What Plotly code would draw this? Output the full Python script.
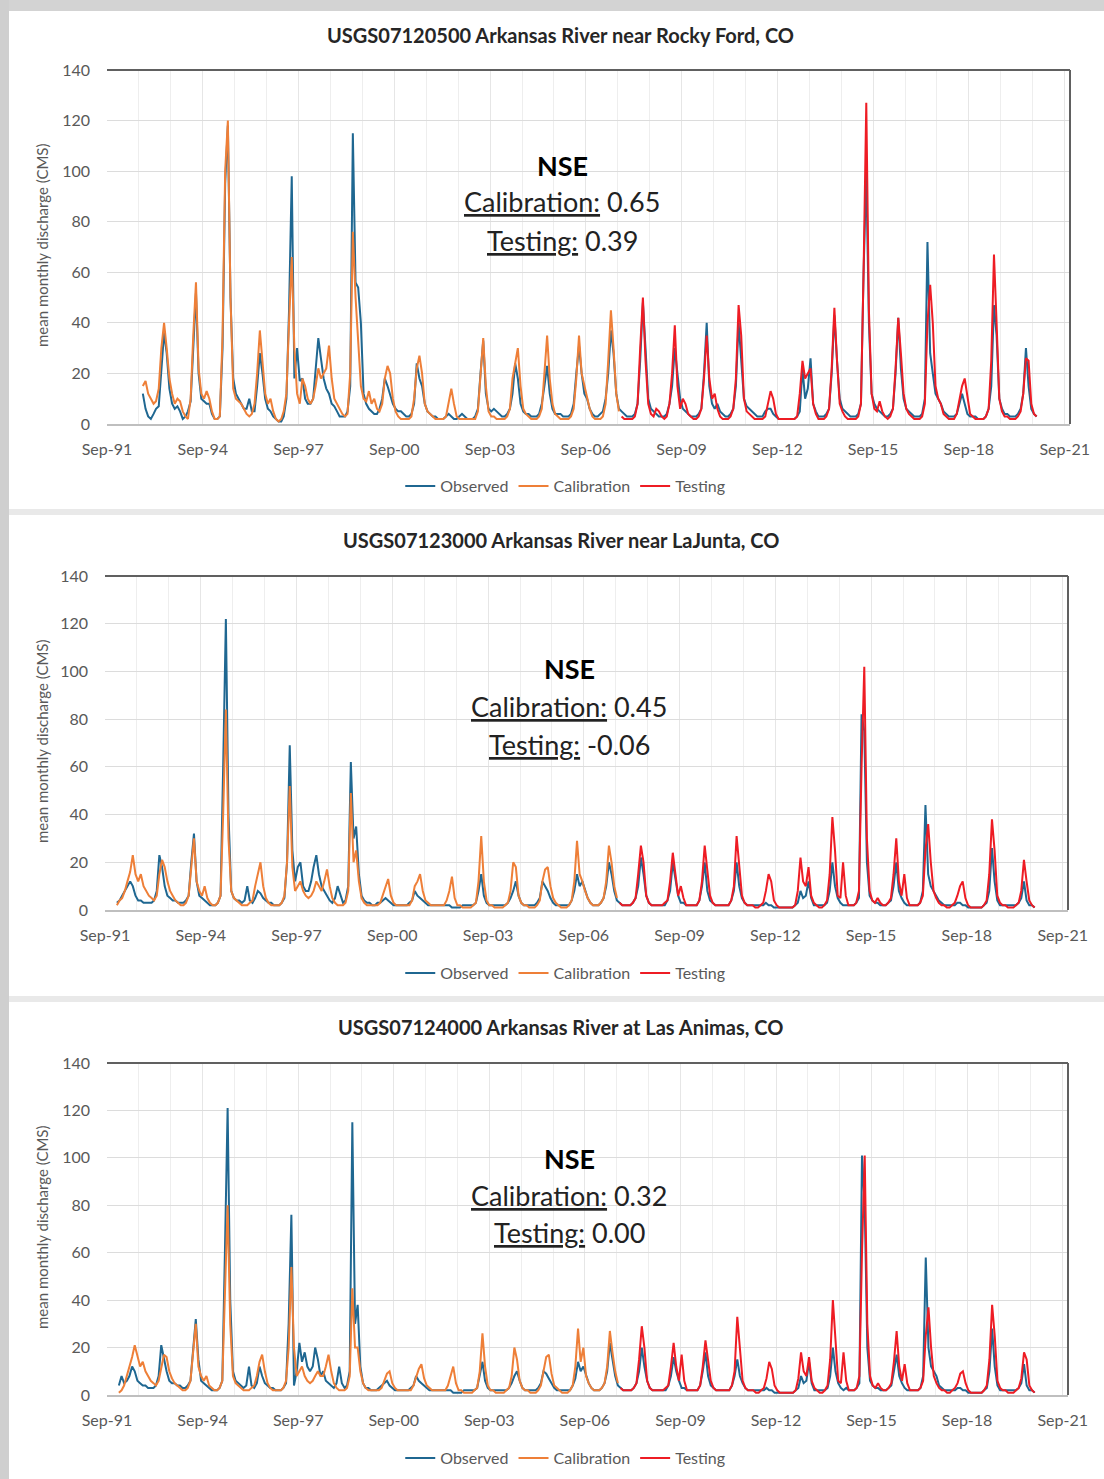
import plotly.graph_objects as go
import pandas as pd

# ---------------- data (monthly mean discharge, CMS) ----------------
titles = [
    "USGS07120500 Arkansas River near Rocky Ford, CO",
    "USGS07123000 Arkansas River near LaJunta, CO",
    "USGS07124000 Arkansas River at Las Animas, CO",
]
nse_calibration = ["0.65", "0.45", "0.32"]
nse_testing = ["0.39", "-0.06", "0.00"]
series_names = ["Observed", "Calibration", "Testing"]
tick_labels_start = "1991-09-01"
test_start = "2007-10-01"

start1 = "1992-10-01"
obs1 = [
    12, 6, 3,
    2, 4, 6, 7, 22, 36, 28, 14, 8, 6, 7, 5,
    2, 3, 5, 9, 30, 52, 20, 10, 9, 8, 8, 4,
    2, 2, 3, 30, 95, 118, 50, 18, 12, 10, 8, 6,
    6, 10, 5, 5, 15, 28, 20, 10, 6, 5, 3, 2,
    1, 1, 3, 10, 45, 98, 18, 30, 17, 18, 10, 8,
    8, 10, 20, 34, 26, 18, 14, 12, 8, 7, 5, 3,
    3, 3, 5, 15, 115, 56, 54, 40, 12, 8, 6, 5,
    4, 4, 6, 10, 18, 15, 12, 8, 6, 5, 5, 4,
    3, 3, 4, 8, 24, 18, 15, 8, 5, 4, 3, 3,
    2, 2, 2, 3, 4, 3, 2, 2, 3, 4, 3, 2,
    2, 2, 3, 6, 20, 33, 12, 6, 5, 6, 5, 4,
    3, 3, 4, 6, 12, 24, 18, 8, 5, 4, 4, 3,
    3, 3, 4, 8, 15, 23, 12, 6, 4, 4, 4, 3,
    3, 3, 4, 8, 20, 31, 20, 12, 10, 6, 4, 3,
    3, 4, 5, 10, 20, 37, 28, 12, 6, 5, 4, 3,
    3, 3, 4, 8, 25, 48, 30, 10, 6, 5, 4, 3,
    3, 3, 4, 8, 15, 30, 20, 10, 6, 5, 4, 3,
    3, 3, 4, 6, 20, 40, 15, 8, 6, 8, 5, 4,
    3, 3, 4, 6, 15, 40, 25, 10, 7, 6, 5, 4,
    3, 3, 3, 5, 6, 6, 4, 3, 2, 2, 2, 2,
    2, 2, 2, 3, 5, 22, 10, 14, 26, 8, 5, 3,
    3, 3, 4, 6, 20, 43, 25, 10, 6, 5, 4, 3,
    3, 3, 4, 8, 60, 100, 40, 12, 8, 6, 5, 4,
    3, 3, 4, 6, 20, 42, 22, 10, 6, 5, 4, 3,
    3, 3, 4, 10, 72, 28, 20, 12, 10, 8, 5, 4,
    3, 3, 3, 4, 8, 12, 8, 4, 3, 3, 3, 2,
    2, 2, 3, 6, 15, 47, 35, 10, 6, 4, 4, 3,
    3, 3, 4, 6, 12, 30, 15, 6, 4, 3,
]
sim1 = [
    15, 17, 12,
    10, 8, 9, 14, 30, 40, 30, 18, 12, 8, 10, 9,
    5, 3, 2, 10, 35, 56, 22, 12, 10, 13, 10, 5,
    2, 2, 3, 35, 100, 120, 50, 14, 10, 9, 8, 6,
    4, 3, 4, 8, 20, 37, 25, 12, 8, 10, 5, 2,
    1, 2, 5, 12, 40, 66, 30, 12, 8, 18, 15, 10,
    8, 10, 15, 22, 18, 20, 22, 31, 18, 10, 8, 6,
    4, 3, 4, 20, 76, 50, 30, 15, 10, 9, 13, 8,
    10, 6, 5, 8, 18, 23, 20, 10, 5, 3, 2, 2,
    2, 2, 3, 10, 22, 27, 20, 8, 5, 4, 3, 2,
    2, 2, 2, 3, 8, 14, 8, 3, 2, 2, 2, 2,
    2, 2, 2, 5, 20, 34, 15, 5, 3, 3, 2, 2,
    2, 2, 3, 6, 18, 25, 30, 15, 6, 4, 3, 2,
    2, 2, 3, 6, 20, 35, 18, 8, 4, 3, 2, 2,
    2, 2, 3, 6, 18, 35, 20, 15, 10, 6, 3, 2,
    2, 2, 3, 8, 25, 45, 30, 12, 5, 3, 2, 2,
    2, 2, 3, 8, 30, 50, 25, 8, 4, 3, 6, 5,
    3, 2, 3, 8, 20, 39, 15, 6, 10, 8, 4, 3,
    2, 2, 3, 6, 18, 35, 18, 10, 12, 6, 3, 2,
    2, 2, 3, 6, 18, 47, 35, 10, 5, 4, 3, 2,
    2, 2, 2, 3, 8, 13, 10, 4, 2, 2, 2, 2,
    2, 2, 2, 3, 12, 25, 18, 20, 22, 8, 4, 2,
    2, 2, 3, 6, 22, 46, 25, 8, 5, 3, 2, 2,
    2, 2, 3, 8, 60, 127, 45, 12, 6, 5, 9, 5,
    3, 2, 3, 6, 22, 42, 28, 12, 6, 4, 3, 2,
    2, 2, 3, 8, 40, 55, 40, 15, 10, 8, 4, 3,
    2, 2, 2, 4, 10, 15, 18, 10, 4, 3, 2, 2,
    2, 2, 3, 6, 25, 67, 40, 10, 5, 3, 3, 2,
    2, 2, 3, 5, 12, 26, 25, 8, 4, 3,
]

start2 = "1992-01-01"
obs2 = [
    3, 4, 6, 8, 10, 12, 10, 6, 4, 4, 3, 3,
    3, 3, 4, 8, 23, 18, 10, 6, 5, 4, 4, 3,
    3, 3, 4, 6, 20, 32, 12, 6, 5, 4, 3, 2,
    2, 2, 3, 6, 60, 122, 40, 8, 5, 4, 4, 3,
    4, 10, 4, 3, 5, 8, 7, 5, 4, 3, 3, 2,
    2, 2, 3, 5, 20, 69, 25, 12, 18, 20, 10, 8,
    8, 12, 18, 23, 15, 10, 8, 6, 4, 3, 5, 10,
    6, 3, 4, 10, 62, 30, 35, 15, 6, 4, 3, 3,
    2, 2, 3, 3, 4, 5, 4, 3, 2, 2, 2, 2,
    2, 2, 3, 4, 8, 6, 5, 4, 3, 2, 2, 2,
    2, 2, 2, 2, 2, 2, 1, 1, 1, 1, 2, 2,
    2, 2, 2, 3, 8, 15, 6, 3, 2, 2, 2, 2,
    2, 2, 2, 3, 5, 8, 12, 6, 3, 2, 2, 2,
    2, 2, 3, 5, 12, 10, 8, 5, 3, 2, 2, 2,
    2, 2, 2, 4, 8, 15, 10, 12, 8, 5, 3, 2,
    2, 2, 3, 5, 10, 20, 15, 8, 4, 3, 2, 2,
    2, 2, 3, 5, 10, 22, 15, 6, 3, 2, 2, 2,
    2, 2, 2, 4, 8, 20, 12, 6, 3, 3, 2, 2,
    2, 2, 2, 4, 10, 20, 8, 4, 3, 2, 2, 2,
    2, 2, 2, 4, 8, 20, 10, 5, 3, 2, 2, 2,
    2, 2, 2, 2, 3, 2, 2, 1, 1, 1, 1, 1,
    1, 1, 1, 2, 3, 8, 5, 6, 12, 5, 2, 2,
    2, 2, 2, 3, 8, 20, 10, 5, 3, 2, 2, 2,
    2, 2, 3, 5, 82, 75, 20, 6, 4, 3, 3, 2,
    2, 2, 3, 4, 10, 20, 8, 5, 3, 2, 2, 2,
    2, 2, 3, 8, 44, 15, 10, 8, 6, 4, 3, 2,
    2, 2, 2, 2, 3, 3, 2, 2, 1, 1, 1, 1,
    1, 1, 2, 3, 8, 26, 12, 4, 2, 2, 2, 2,
    2, 2, 2, 3, 5, 12, 4, 2, 2, 1,
]
sim2 = [
    2, 4, 5, 8, 12, 16, 23, 15, 12, 15, 10, 8,
    6, 5, 4, 6, 15, 21, 18, 12, 8, 6, 4, 3,
    2, 2, 3, 6, 18, 30, 12, 8, 6, 10, 5, 3,
    2, 2, 3, 6, 40, 84, 30, 8, 5, 4, 3, 2,
    2, 2, 3, 4, 10, 15, 20, 10, 5, 3, 2, 2,
    2, 2, 3, 6, 20, 52, 18, 8, 10, 12, 8, 6,
    5, 6, 8, 12, 10, 8, 12, 17, 10, 5, 3, 2,
    2, 2, 3, 8, 49, 20, 25, 12, 5, 3, 2, 2,
    2, 2, 2, 3, 6, 10, 13, 6, 3, 2, 2, 2,
    2, 2, 2, 4, 10, 12, 15, 8, 4, 3, 2, 2,
    2, 2, 2, 2, 4, 8, 14, 5, 2, 2, 1, 1,
    1, 1, 2, 3, 12, 31, 12, 4, 2, 2, 1, 1,
    1, 1, 2, 3, 8, 20, 18, 6, 3, 2, 2, 1,
    1, 1, 2, 4, 12, 17, 18, 10, 5, 3, 2, 1,
    1, 1, 2, 4, 12, 29, 15, 12, 8, 5, 3, 2,
    2, 2, 3, 5, 12, 27, 20, 10, 5, 3, 2, 2,
    2, 2, 3, 5, 15, 27, 20, 6, 3, 2, 2, 2,
    2, 2, 3, 4, 12, 24, 15, 6, 10, 5, 2, 2,
    2, 2, 2, 4, 12, 27, 15, 6, 3, 2, 2, 2,
    2, 2, 2, 4, 10, 31, 20, 6, 3, 2, 2, 2,
    1, 1, 2, 3, 8, 15, 12, 4, 2, 1, 1, 1,
    1, 1, 1, 2, 8, 22, 12, 10, 18, 6, 3, 2,
    1, 1, 2, 4, 15, 39, 25, 6, 5, 20, 6, 2,
    2, 2, 3, 8, 60, 102, 30, 8, 4, 3, 5, 3,
    2, 2, 3, 5, 15, 30, 12, 6, 15, 5, 2, 2,
    2, 2, 3, 6, 25, 36, 20, 8, 5, 3, 2, 2,
    1, 1, 2, 3, 6, 10, 12, 5, 2, 1, 1, 1,
    1, 1, 2, 4, 15, 38, 25, 6, 3, 2, 2, 1,
    1, 1, 2, 3, 8, 21, 12, 4, 2, 1,
]

start3 = "1992-01-01"
obs3 = [
    4, 8, 5, 6, 8, 12, 10, 6, 5, 4, 4, 3,
    3, 3, 4, 8, 21, 15, 10, 6, 5, 5, 4, 4,
    3, 3, 4, 6, 20, 32, 15, 6, 5, 4, 3, 2,
    2, 2, 3, 6, 60, 121, 40, 10, 6, 5, 4, 3,
    4, 12, 4, 3, 5, 12, 8, 5, 4, 3, 3, 2,
    2, 2, 3, 5, 30, 76, 4, 10, 22, 14, 18, 12,
    10, 12, 20, 15, 8, 10, 6, 5, 4, 3, 5, 12,
    5, 3, 4, 10, 115, 30, 38, 12, 5, 3, 3, 2,
    2, 2, 3, 4, 5, 6, 4, 3, 2, 2, 2, 2,
    2, 2, 3, 4, 8, 6, 5, 4, 3, 2, 2, 2,
    2, 2, 2, 2, 2, 2, 1, 1, 1, 1, 2, 2,
    2, 2, 2, 3, 8, 14, 6, 3, 2, 2, 2, 2,
    2, 2, 2, 3, 5, 8, 10, 6, 3, 2, 2, 2,
    2, 2, 3, 5, 10, 9, 7, 5, 3, 2, 2, 2,
    2, 2, 2, 4, 7, 14, 10, 12, 8, 5, 3, 2,
    2, 2, 3, 5, 10, 22, 15, 8, 4, 3, 2, 2,
    2, 2, 3, 5, 10, 20, 12, 6, 3, 2, 2, 2,
    2, 2, 2, 4, 8, 16, 10, 6, 3, 3, 2, 2,
    2, 2, 2, 4, 10, 18, 8, 4, 3, 2, 2, 2,
    2, 2, 2, 4, 8, 15, 8, 5, 3, 2, 2, 2,
    2, 2, 2, 2, 3, 2, 2, 1, 1, 1, 1, 1,
    1, 1, 1, 2, 3, 8, 5, 6, 14, 5, 2, 2,
    2, 2, 2, 3, 8, 20, 10, 5, 3, 2, 3, 2,
    2, 2, 3, 5, 101, 80, 20, 6, 4, 3, 3, 2,
    2, 2, 3, 4, 10, 17, 8, 5, 3, 2, 2, 2,
    2, 2, 3, 8, 58, 20, 12, 10, 8, 4, 3, 2,
    2, 2, 2, 2, 3, 3, 2, 2, 1, 1, 1, 1,
    1, 1, 2, 3, 10, 28, 12, 4, 2, 2, 2, 2,
    2, 2, 2, 3, 5, 13, 4, 2, 2, 1,
]
sim3 = [
    1, 2, 4, 8, 12, 16, 21, 16, 12, 14, 10, 8,
    6, 5, 4, 6, 12, 17, 16, 10, 7, 5, 4, 3,
    2, 2, 3, 6, 18, 30, 12, 8, 6, 8, 4, 3,
    2, 2, 3, 6, 40, 80, 30, 8, 5, 4, 3, 2,
    2, 2, 3, 4, 8, 14, 17, 10, 5, 3, 2, 2,
    2, 2, 3, 6, 20, 54, 20, 8, 10, 12, 8, 6,
    5, 6, 8, 10, 8, 8, 12, 17, 10, 5, 3, 2,
    2, 2, 3, 8, 45, 20, 20, 10, 5, 3, 2, 2,
    2, 2, 2, 3, 6, 9, 10, 5, 3, 2, 2, 2,
    2, 2, 2, 4, 8, 11, 13, 7, 4, 3, 2, 2,
    2, 2, 2, 2, 4, 8, 12, 5, 2, 2, 1, 1,
    1, 1, 2, 3, 10, 26, 12, 4, 2, 2, 1, 1,
    1, 1, 2, 3, 8, 20, 15, 6, 3, 2, 2, 1,
    1, 1, 2, 4, 10, 16, 17, 9, 4, 3, 2, 1,
    1, 1, 2, 4, 12, 28, 14, 20, 8, 5, 3, 2,
    2, 2, 3, 5, 12, 27, 18, 10, 5, 3, 2, 2,
    2, 2, 3, 5, 15, 29, 20, 6, 3, 2, 2, 2,
    2, 2, 3, 4, 12, 22, 12, 6, 17, 6, 2, 2,
    2, 2, 2, 4, 12, 23, 15, 6, 3, 2, 2, 2,
    2, 2, 2, 4, 10, 33, 20, 6, 3, 2, 2, 2,
    1, 1, 2, 3, 7, 14, 11, 4, 2, 1, 1, 1,
    1, 1, 1, 2, 7, 18, 10, 8, 16, 6, 3, 2,
    1, 1, 2, 4, 15, 40, 25, 6, 5, 18, 6, 2,
    2, 2, 3, 8, 60, 101, 30, 8, 4, 3, 5, 3,
    2, 2, 3, 5, 14, 27, 12, 6, 13, 5, 2, 2,
    2, 2, 3, 6, 25, 37, 20, 8, 5, 3, 2, 2,
    1, 1, 2, 3, 5, 9, 10, 5, 2, 1, 1, 1,
    1, 1, 2, 4, 15, 38, 25, 6, 3, 2, 2, 1,
    1, 1, 2, 3, 7, 18, 15, 4, 2, 1,
]

panels = [
    (start1, obs1, sim1),
    (start2, obs2, sim2),
    (start3, obs3, sim3),
]

# ---------------- styling / layout ----------------
W, H = 1104, 1479
C_OBS = "#1f6791"
C_CAL = "#ee7f38"
C_TST = "#ee1c24"
GRID = "#dcdcdc"
TXT = "#595959"
FONT = "Lato, 'Open Sans', sans-serif"
LW = 2.0

# pixel boxes of the plot areas: (left, right, top, bottom)
boxes = [(107, 1070, 70, 424), (105, 1068, 576, 910), (107, 1068, 1063, 1395)]
title_y = [35, 540, 1027]
legend_y = [486, 973, 1458]
nse_y = [(165, 202, 240), (669, 706, 744), (1158, 1195, 1232)]
nse_x = [562, 569, 569]

def px(x):
    return x / W

def py(y):
    return 1 - y / H

fig = go.Figure()
layout = dict(
    width=W, height=H, autosize=False,
    margin=dict(l=0, r=0, t=0, b=0, pad=0),
    paper_bgcolor="white", plot_bgcolor="white",
    font=dict(family=FONT, color=TXT),
    showlegend=True,
)
annotations = []
shapes = []

# background frame (gray border and separators)
shapes.append(dict(type="rect", xref="paper", yref="paper", x0=0, x1=1, y0=py(11), y1=1,
                   fillcolor="#d3d3d3", line_width=0, layer="below"))
shapes.append(dict(type="rect", xref="paper", yref="paper", x0=0, x1=px(9), y0=0, y1=1,
                   fillcolor="#cfcfcf", line_width=0, layer="below"))
for ys in (512, 999):
    shapes.append(dict(type="rect", xref="paper", yref="paper", x0=px(9), x1=1,
                       y0=py(ys + 3), y1=py(ys - 3),
                       fillcolor="#e9e9e9", line_width=0, layer="below"))

for i, (start, obs, sim) in enumerate(panels):
    n = i + 1
    xa = "x" if n == 1 else f"x{n}"
    ya = "y" if n == 1 else f"y{n}"
    lg = "legend" if n == 1 else f"legend{n}"
    l, r, t, b = boxes[i]

    d_obs = pd.date_range(start, periods=len(obs), freq="MS") + pd.Timedelta(days=14)
    d_sim = pd.date_range(start, periods=len(sim), freq="MS") + pd.Timedelta(days=14)
    s_sim = pd.Series(sim, index=d_sim)
    cal = s_sim[s_sim.index < pd.Timestamp(test_start)]
    tst = s_sim[s_sim.index >= pd.Timestamp(test_start)]

    fig.add_trace(go.Scatter(x=d_obs, y=obs, mode="lines", name=series_names[0],
                             line=dict(color=C_OBS, width=LW), xaxis=xa, yaxis=ya, legend=lg))
    fig.add_trace(go.Scatter(x=cal.index, y=cal.values, mode="lines", name=series_names[1],
                             line=dict(color=C_CAL, width=LW), xaxis=xa, yaxis=ya, legend=lg))
    fig.add_trace(go.Scatter(x=tst.index, y=tst.values, mode="lines", name=series_names[2],
                             line=dict(color=C_TST, width=LW), xaxis=xa, yaxis=ya, legend=lg))

    xkey = "xaxis" if n == 1 else f"xaxis{n}"
    ykey = "yaxis" if n == 1 else f"yaxis{n}"
    layout[xkey] = dict(
        domain=[px(l), px(r)], anchor=ya, type="date", automargin=False,
        range=["1991-09-01", "2021-11-01"],
        tick0=tick_labels_start, dtick="M36", tickformat="%b-%y",
        showgrid=True, gridcolor="#e6e6e6", gridwidth=1,
        minor=dict(dtick="M12", tick0=tick_labels_start, showgrid=True,
                   gridcolor="#eeeeee", gridwidth=1),
        showline=True, linecolor="#bfbfbf", linewidth=1.5,
        ticks="", tickfont=dict(family=FONT, size=16, color=TXT),
        ticklabelstandoff=10, zeroline=False, fixedrange=True,
    )
    layout[ykey] = dict(
        domain=[py(b), py(t)], anchor=xa, range=[0, 140], dtick=20, automargin=False,
        showgrid=True, gridcolor=GRID, gridwidth=1.2,
        showline=False, zeroline=False, ticks="",
        tickfont=dict(family=FONT, size=16, color=TXT),
        ticklabelstandoff=16, fixedrange=True,
    )
    # top and right frame of the plot area
    shapes.append(dict(type="line", xref=f"{xa} domain", yref=f"{ya} domain",
                       x0=0, x1=1, y0=1, y1=1, line=dict(color="#606060", width=2)))
    shapes.append(dict(type="line", xref=f"{xa} domain", yref=f"{ya} domain",
                       x0=1, x1=1, y0=0, y1=1, line=dict(color="#606060", width=2)))

    layout[lg] = dict(
        orientation="h", x=0.512, xanchor="center", y=py(legend_y[i]), yanchor="middle",
        xref="paper", yref="paper",
        font=dict(family=FONT, size=16, color=TXT), bgcolor="rgba(0,0,0,0)",
        itemwidth=30, tracegroupgap=0, traceorder="normal",
    )

    annotations.append(dict(text=f"<b>{titles[i]}</b>", x=0.508, y=py(title_y[i]),
                            xref="paper", yref="paper", showarrow=False,
                            xanchor="center", yanchor="middle",
                            font=dict(family=FONT, size=20, color="#262626")))
    annotations.append(dict(text="mean monthly discharge (CMS)", x=px(42),
                            y=py((t + b) / 2 - 2), xref="paper", yref="paper",
                            showarrow=False, textangle=-90, xanchor="center",
                            yanchor="middle", font=dict(family=FONT, size=15, color=TXT)))
    y0, y1, y2 = nse_y[i]
    annotations.append(dict(text="<b>NSE</b>", x=px(nse_x[i]), y=py(y0), xref="paper",
                            yref="paper", showarrow=False, xanchor="center", yanchor="middle",
                            font=dict(family=FONT, size=27, color="black")))
    annotations.append(dict(
        text=f'<span style="text-decoration:underline">Calibration:</span> {nse_calibration[i]}',
        x=px(nse_x[i]), y=py(y1), xref="paper", yref="paper", showarrow=False,
        xanchor="center", yanchor="middle", font=dict(family=FONT, size=27, color="#222222")))
    annotations.append(dict(
        text=f'<span style="text-decoration:underline">Testing:</span> {nse_testing[i]}',
        x=px(nse_x[i]), y=py(y2), xref="paper", yref="paper", showarrow=False,
        xanchor="center", yanchor="middle", font=dict(family=FONT, size=27, color="#222222")))

layout["annotations"] = annotations
layout["shapes"] = shapes
fig.update_layout(**layout)
fig.write_html("out.html")
